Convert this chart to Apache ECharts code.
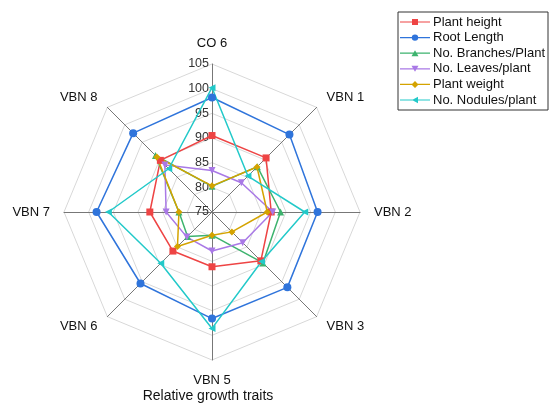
<!DOCTYPE html>
<html>
<head>
<meta charset="utf-8">
<script src="https://cdn.jsdelivr.net/npm/echarts@6/dist/echarts.min.js"></script>
<style>
  html, body { margin: 0; padding: 0; background: #fff; }
  #main { width: 549px; height: 410px; }
</style>
</head>
<body>
<div id="main"></div>
<script>
// axes, clockwise from the top
var varieties = ['CO 6', 'VBN 1', 'VBN 2', 'VBN 3', 'VBN 5', 'VBN 6', 'VBN 7', 'VBN 8'];
var ticks = [75, 80, 85, 90, 95, 100, 105];

var plantHeight  = [90.5, 90.5, 87.0, 89.0, 86.1, 86.2, 87.6, 89.8];
var rootLength   = [98.2, 97.2, 96.4, 96.6, 96.6, 95.5, 98.4, 97.6];
var noBranches   = [80.2, 88.0, 88.9, 89.6, 79.7, 82.0, 81.7, 91.2];
var noLeaves     = [83.4, 83.4, 87.3, 83.8, 82.9, 82.2, 84.3, 88.5];
var plantWeight  = [80.3, 87.9, 86.2, 80.7, 79.7, 84.9, 81.7, 90.8];
var noNodules    = [100.2, 85.3, 93.8, 89.2, 98.6, 89.7, 96.0, 87.4];

var seriesNames = ['Plant height', 'Root Length', 'No. Branches/Plant', 'No. Leaves/plant', 'Plant weight', 'No. Nodules/plant'];
var seriesData = [plantHeight, rootLength, noBranches, noLeaves, plantWeight, noNodules];
var colors = ['#ee4444', '#2f74db', '#3db36e', '#a979e6', '#d4a300', '#22c9c9'];
var symbols = ['rect', 'circle', 'triangle', 'triangle', 'diamond', 'triangle'];
var rotates = [0, 0, 0, 180, 0, 90];
var icons = [
  'path://M0,3.4H30V4.6H0Z M12,1H18V7H12Z',
  'path://M0,3.4H30V4.6H0Z M11.8,4A3.2,3.2 0 1,1 18.2,4A3.2,3.2 0 1,1 11.8,4Z',
  'path://M0,3.4H30V4.6H0Z M11.5,7L15,1L18.5,7Z',
  'path://M0,3.4H30V4.6H0Z M11.5,1L18.5,1L15,7Z',
  'path://M0,3.4H30V4.6H0Z M15,0.5L18.5,4L15,7.5L11.5,4Z',
  'path://M0,3.4H30V4.6H0Z M12,4L18,0.8L18,7.2Z'
];

// echarts lays radar axes counter-clockwise, so reverse all but the first
var order = [0, 7, 6, 5, 4, 3, 2, 1];

(function () {
  var myChart = echarts.init(document.getElementById('main'));
  var fontFamily = '"Liberation Sans", Arial, sans-serif';

  var series = seriesNames.map(function (name, i) {
    return {
      name: name,
      type: 'radar',
      symbol: symbols[i],
      symbolSize: i === 1 ? 8 : 7,
      symbolRotate: rotates[i],
      lineStyle: { width: 1.5, color: colors[i] },
      itemStyle: { color: colors[i] },
      data: [{
        name: name,
        value: order.map(function (k) { return seriesData[i][k]; })
      }]
    };
  });

  var option = {
    animation: false,
    color: colors,
    textStyle: { fontFamily: fontFamily },
    title: {
      text: 'Relative growth traits',
      left: 208,
      textAlign: 'center',
      top: 389,
      padding: 0,
      textStyle: { fontSize: 14, fontWeight: 'normal', color: '#111', fontFamily: fontFamily }
    },
    legend: {
      orient: 'vertical',
      left: 398,
      top: 12,
      padding: [3, 3, 3, 2],
      borderColor: '#333',
      borderWidth: 1,
      itemWidth: 30,
      itemHeight: 8,
      itemGap: 1.6,
      textStyle: { fontSize: 13, color: '#111', lineHeight: 14, padding: [0, 0, 0, -2] },
      data: seriesNames.map(function (n, i) {
        return { name: n, icon: icons[i] };
      })
    },
    radar: {
      center: [212, 212],
      radius: 148,
      startAngle: 90,
      splitNumber: ticks.length - 1,
      shape: 'polygon',
      axisNameGap: 14,
      axisName: { color: '#111', fontSize: 13, fontFamily: fontFamily },
      axisLine: { lineStyle: { color: '#777', width: 1 } },
      splitLine: { lineStyle: { color: '#d8d8d8', width: 1 } },
      splitArea: { show: false },
      indicator: order.map(function (k) {
        return { name: varieties[k], min: ticks[0], max: ticks[ticks.length - 1] };
      })
    },
    // tick labels on the top axis only
    polar: { center: [212, 212], radius: 148 },
    angleAxis: { show: false, startAngle: 90, min: 0, max: 360 },
    radiusAxis: {
      min: ticks[0],
      max: ticks[ticks.length - 1],
      interval: 5,
      axisLine: { show: false },
      axisTick: { show: false },
      splitLine: { show: false },
      axisLabel: { show: true, fontSize: 12.5, color: '#333', margin: 3, fontFamily: fontFamily }
    },
    series: series
  };

  myChart.setOption(option);
})();
</script>
</body>
</html>
